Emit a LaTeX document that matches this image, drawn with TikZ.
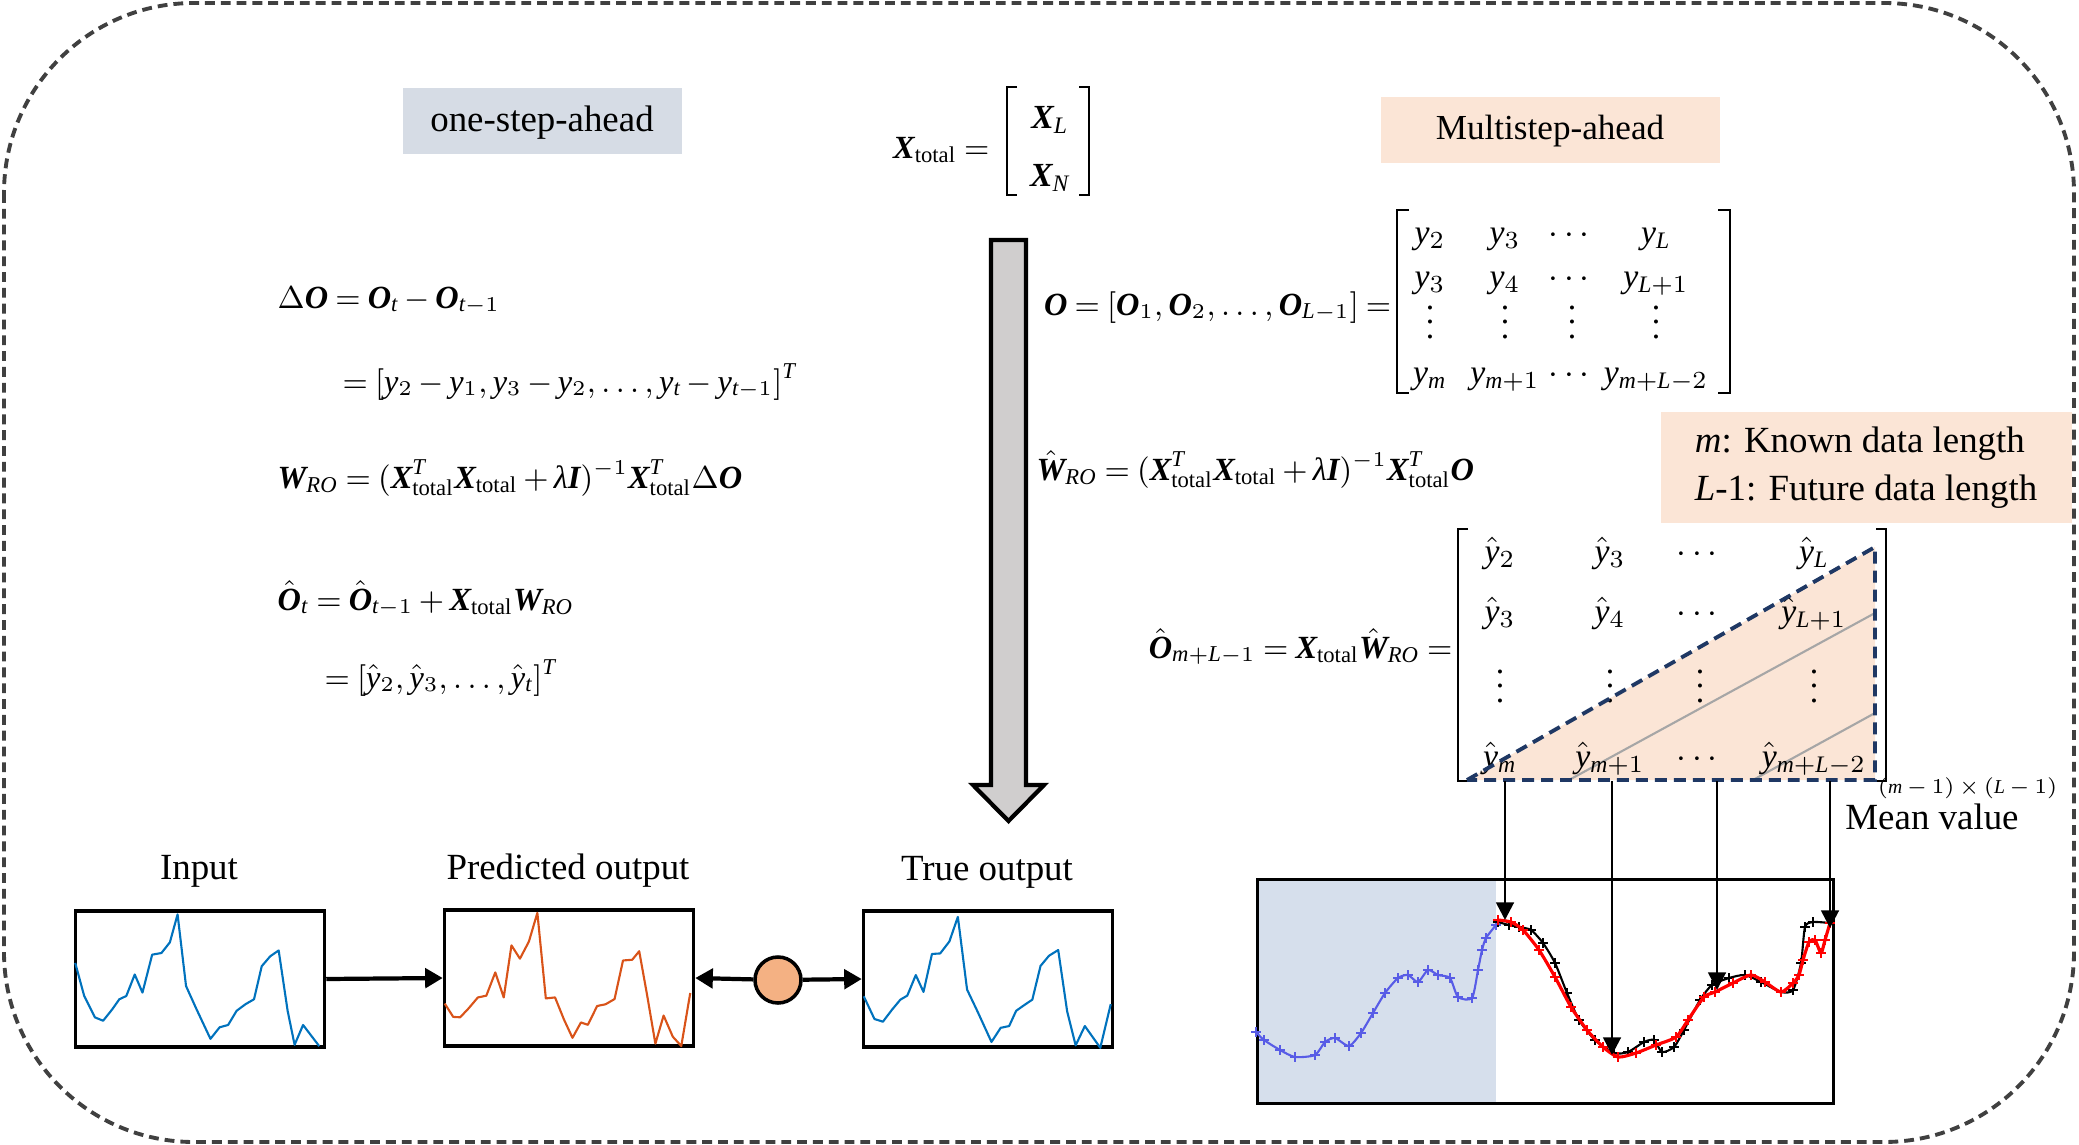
\documentclass[tikz,border=0pt]{standalone}
\usepackage{amsmath}
\usepackage{fontspec}
\setmainfont{Liberation Serif}
\usetikzlibrary{arrows.meta,positioning}
% Times-like letters in math, taken from the text font
\makeatletter
\edef\tfam{\rmdefault}
\DeclareSymbolFont{tletters}{TU}{\tfam}{m}{it}
\DeclareSymbolFont{tupright}{TU}{\tfam}{m}{n}
\DeclareMathAlphabet{\mathbi}{TU}{\tfam}{b}{it}
\count@=`A
\loop
    \Umathcode\count@="7 \symtletters \count@
    \advance\count@ by 1
\ifnum\count@<`[ \repeat
\count@=`a
\loop
    \Umathcode\count@="7 \symtletters \count@
    \advance\count@ by 1
\ifnum\count@<123 \repeat
\Umathchardef\lambda="7 \symtletters "03BB
\Umathchardef\Delta="0 \symtupright "0394
\makeatother
\thickmuskip=4mu plus 1mu
\medmuskip=3mu plus 1mu
\newcommand{\bv}[1]{\mathbi{#1}}
\newcommand{\tot}{\mathrm{total}}
\definecolor{tagblue}{RGB}{214,220,229}
\definecolor{tagpeach}{RGB}{251,229,214}
\definecolor{arrowgray}{RGB}{208,206,206}
\definecolor{dotorange}{RGB}{244,177,131}
\definecolor{navy}{RGB}{31,56,100}
\definecolor{framegray}{RGB}{64,64,64}
\definecolor{knownblue}{RGB}{214,223,236}
\definecolor{curveblue}{RGB}{88,92,230}
\definecolor{lineblue}{RGB}{0,114,189}
\definecolor{lineorange}{RGB}{217,83,25}
\begin{document}
\begin{tikzpicture}[x=0.1mm, y=-0.1mm, font=\fontsize{10.5}{12.6}\selectfont]
        % Styles for tags, charts, brackets and arrows
        \tikzset{
            tag/.style={
                rectangle,
                minimum height=6.6mm,
                inner sep=0pt,
                text depth=0.25ex
            },
            chart/.style={
                draw,
                rectangle,
                line width=1pt,
                minimum width=24.9mm,
                minimum height=13.6mm,
                inner sep=0pt
            },
            eq/.style={
                anchor=base west,
                inner sep=0pt,
                font=\fontsize{9.2}{11}\selectfont
            },
            entry/.style={
                anchor=base,
                inner sep=0pt,
                font=\fontsize{9.6}{11.5}\selectfont
            },
            brk/.style={
                line width=0.7pt
            },
            arrow/.style={
                line width=1.2pt,
                -{Triangle[length=5pt,width=5.5pt]}
            },
            vec/.style={
                line width=0.8pt,
                -{Triangle[length=5pt,width=5pt]}
            },
            series/.style={
                line width=0.6pt,
                line join=round
            },
            marked/.style={
                smooth,
                tension=0.4,
                mark=+,
                mark size=1.3pt,
                mark options={line width=0.4pt}
            }
        }
        \useasboundingbox (0,0) rectangle (2079,1145);
        % Titles of the two parts
        \node[tag, fill=tagblue, minimum width=27.9mm] (onestep) at (542,121) {one-step-ahead};
        \node[tag, fill=tagpeach, minimum width=33.9mm, font=\fontsize{10}{12}\selectfont] (multistep) at (1550,129.5) {Multistep-ahead};
        \node[fill=tagpeach, minimum width=41.1mm, minimum height=11.1mm, align=left,
              font=\fontsize{10.5}{13.7}\selectfont] (legend) at (1866,467.5)
              {$m$: Known data length\\$L$-1: Future data length};
        % X total
        \node[eq, anchor=base east] (xtot) at (990,158) {$\bv{X}_{\tot} =$};
        \draw[brk] (1017,87) -- (1007,87) -- (1007,195) -- (1017,195);
        \draw[brk] (1079,87) -- (1089,87) -- (1089,195) -- (1079,195);
        \node[entry] (xl) at (1050,128) {$\bv{X}_L$};
        \node[entry] (xn) at (1050,186) {$\bv{X}_N$};
        % Gray arrow in the middle
        \draw[line width=1.2pt, fill=arrowgray] (991,240) -- (1026,240) -- (1026,785) -- (1044,785)
            -- (1008.5,821) -- (973,785) -- (991,785) -- cycle;
        % One-step-ahead equations
        \node[eq] (dlt) at (277,308) {$\Delta\bv{O} = \bv{O}_t - \bv{O}_{t-1}$};
        \node[eq] (dlt2) at (342,392) {$= [y_2 - y_1, y_3 - y_2, \ldots, y_t - y_{t-1}]^T$};
        \node[eq] (wro) at (277,488) {$\bv{W}_{RO} = (\bv{X}^T_{\tot}\bv{X}_{\tot} + \lambda\bv{I})^{-1}\bv{X}^T_{\tot}\Delta\bv{O}$};
        \node[eq] (ohat) at (277,610) {$\hat{\bv{O}}_t = \hat{\bv{O}}_{t-1} + \bv{X}_{\tot}\bv{W}_{RO}$};
        \node[eq] (ohat2) at (324,688) {$= [\hat{y}_2, \hat{y}_3, \ldots, \hat{y}_t]^T$};
        % Multistep-ahead equations
        \node[eq, anchor=base east] (oseq) at (1392,315) {$\bv{O} = [\bv{O}_1, \bv{O}_2, \ldots, \bv{O}_{L-1}] =$};
        \draw[brk] (1409,210) -- (1397,210) -- (1397,393) -- (1409,393);
        \draw[brk] (1718,210) -- (1730,210) -- (1730,393) -- (1718,393);
        \foreach \c/\xx/\entA/\entB/\entD in {1/1430/y_2/y_3/y_m, 2/1505/y_3/y_4/y_{m+1},
                3/1572/\cdots/\cdots/\cdots, 4/1656/y_L/y_{L+1}/y_{m+L-2}} {
            \node[entry] (o1\c) at (\xx,243) {$\entA$};
            \node[entry] (o2\c) at (\xx,287) {$\entB$};
            \node[entry] (o3\c) at (\xx,338) {$\vdots$};
            \node[entry] (o4\c) at (\xx,383) {$\entD$};
        }
        \node[eq] (what) at (1036,480) {$\hat{\bv{W}}_{RO} = (\bv{X}^T_{\tot}\bv{X}_{\tot} + \lambda\bv{I})^{-1}\bv{X}^T_{\tot}\bv{O}$};
        \node[eq, anchor=base east] (omeq) at (1453,658) {$\hat{\bv{O}}_{m+L-1} = \bv{X}_{\tot}\hat{\bv{W}}_{RO} =$};
        % Predicted matrix with the averaged triangle
        \fill[tagpeach] (1467,780) -- (1875,547) -- (1875,780) -- cycle;
        \draw[gray!70, line width=0.6pt] (1569,780) -- (1875,613) (1753,780) -- (1875,713);
        \draw[brk] (1468,529) -- (1458,529) -- (1458,781) -- (1468,781);
        \draw[brk] (1876,529) -- (1886,529) -- (1886,781) -- (1876,781);
        \foreach \c/\xx/\entA/\entB/\entD in {1/1500/\hat{y}_2/\hat{y}_3/\hat{y}_m, 2/1610/\hat{y}_3/\hat{y}_4/\hat{y}_{m+1},
                3/1700/\cdots/\cdots/\cdots, 4/1814/\hat{y}_L/\hat{y}_{L+1}/\hat{y}_{m+L-2}} {
            \node[entry] (p1\c) at (\xx,562) {$\entA$};
            \node[entry] (p2\c) at (\xx,622) {$\entB$};
            \node[entry] (p3\c) at (\xx,702) {$\vdots$};
            \node[entry] (p4\c) at (\xx,767) {$\entD$};
        }
        \draw[navy, line width=1.1pt, dash pattern=on 3.4pt off 2pt] (1467,780) -- (1875,547) -- (1875,780) -- cycle;
        \node[anchor=east, inner sep=0pt, font=\fontsize{5.6}{6.7}\selectfont] (dims) at (2058,788) {$(m-1)\times(L-1)$};
        \node (mean) at (1932,817) {Mean value};
        % Forecast plot
        \fill[knownblue] (1256,878) rectangle (1496,1102);
        \node[draw, line width=0.9pt, minimum width=57.6mm, minimum height=22.4mm, inner sep=0pt,
              anchor=north west] (plot) at (1256,878) {};
        \draw[series, curveblue, marked] plot coordinates {(1256,1032) (1264,1040) (1280,1050) (1295,1057)
            (1315,1055) (1325,1042) (1335,1038) (1349,1046) (1361,1033) (1373,1013) (1385,993) (1398,978)
            (1408,975) (1418,982) (1428,970) (1438,975) (1450,978) (1458,997) (1472,998) (1478,970)
            (1482,950) (1486,938) (1496,925)};
        \draw[series, black, marked] plot coordinates {(1498,922) (1509,925) (1519,927) (1531,930) (1543,943)
            (1555,963) (1567,993) (1579,1020) (1595,1040) (1614,1053) (1628,1052) (1644,1042) (1654,1040)
            (1662,1052) (1674,1047) (1684,1030) (1700,1000) (1712,985) (1729,978) (1745,975) (1761,982)
            (1781,992) (1793,990) (1801,963) (1805,927) (1813,922) (1830,923)};
        \draw[series, red, line width=0.9pt, marked] plot coordinates {(1498,920) (1511,922) (1523,930) (1539,950)
            (1555,977) (1571,1007) (1587,1030) (1603,1047) (1618,1057) (1636,1053) (1656,1045) (1676,1037)
            (1688,1020) (1704,997) (1715,992) (1733,983) (1751,975) (1765,982) (1781,992) (1793,983)
            (1799,975) (1803,960) (1809,942) (1815,940) (1821,953) (1825,940) (1830,923)};
        % Arrows from the averaged columns to the plot
        \foreach \i/\xx/\yy in {1/1505/920, 2/1612/1055, 3/1717/990, 4/1830/928} {
            \coordinate (top\i) at (\xx,781);
            \coordinate (hit\i) at (\xx,\yy);
            \draw[vec] (top\i) -- (hit\i);
        }
        % Small charts of the one-step-ahead loop
        \node (inplbl) at (199,871) {Input};
        \node (predlbl) at (568,871) {Predicted output};
        \node (truelbl) at (987,872) {True output};
        \node[chart] (inp) at (200,979) {};
        \node[chart] (pred) at (569,978) {};
        \node[chart] (true) at (988,979) {};
        \begin{scope}[shift={(inp.south west)}, x=24.9mm, y=13.6mm]
            \draw[series, lineblue] plot coordinates {(0.006,0.631) (0.042,0.388) (0.085,0.231) (0.118,0.206)
                (0.155,0.291) (0.183,0.364) (0.211,0.388) (0.245,0.546) (0.276,0.413) (0.315,0.692) (0.352,0.704)
                (0.386,0.782) (0.417,0.988) (0.451,0.461) (0.493,0.291) (0.549,0.073) (0.586,0.158) (0.620,0.175)
                (0.654,0.279) (0.690,0.328) (0.724,0.364) (0.755,0.607) (0.789,0.680) (0.823,0.723) (0.859,0.279)
                (0.887,0.029) (0.921,0.175) (0.986,0.019)};
        \end{scope}
        \begin{scope}[shift={(pred.south west)}, x=24.9mm, y=13.6mm]
            \draw[series, lineorange] plot coordinates {(0.008,0.325) (0.042,0.227) (0.070,0.224) (0.104,0.290)
                (0.141,0.370) (0.175,0.383) (0.211,0.554) (0.245,0.370) (0.276,0.753) (0.310,0.655) (0.346,0.781)
                (0.380,0.992) (0.414,0.363) (0.451,0.370) (0.487,0.207) (0.521,0.073) (0.555,0.186) (0.583,0.169)
                (0.620,0.307) (0.654,0.320) (0.690,0.358) (0.724,0.642) (0.761,0.647) (0.789,0.710) (0.820,0.395)
                (0.854,0.030) (0.887,0.237) (0.924,0.081) (0.958,0.013) (0.994,0.403)};
        \end{scope}
        \begin{scope}[shift={(true.south west)}, x=24.9mm, y=13.6mm]
            \draw[series, lineblue] plot coordinates {(0.008,0.386) (0.051,0.219) (0.085,0.199) (0.121,0.286)
                (0.155,0.361) (0.183,0.391) (0.217,0.542) (0.248,0.418) (0.282,0.697) (0.315,0.701) (0.352,0.789)
                (0.386,0.970) (0.423,0.435) (0.465,0.274) (0.521,0.050) (0.558,0.154) (0.592,0.167) (0.620,0.279)
                (0.654,0.323) (0.685,0.361) (0.718,0.609) (0.752,0.684) (0.789,0.726) (0.825,0.274) (0.859,0.025)
                (0.896,0.167) (0.958,0.007) (1.0,0.328)};
        \end{scope}
        \node[circle, draw, line width=1pt, fill=dotorange, minimum size=4.6mm, inner sep=0pt] (cmp) at (778,980) {};
        \draw[arrow] (inp.east) -- (pred.west);
        \draw[arrow] (cmp) -- (pred.east);
        \draw[arrow] (cmp) -- (true.west);
        % Dashed frame round everything
        \draw[framegray, line width=1.1pt, dash pattern=on 2.8pt off 1.7pt, rounded corners=19mm]
            (4,3) rectangle (2074,1142);
    \end{tikzpicture}
\end{document}
